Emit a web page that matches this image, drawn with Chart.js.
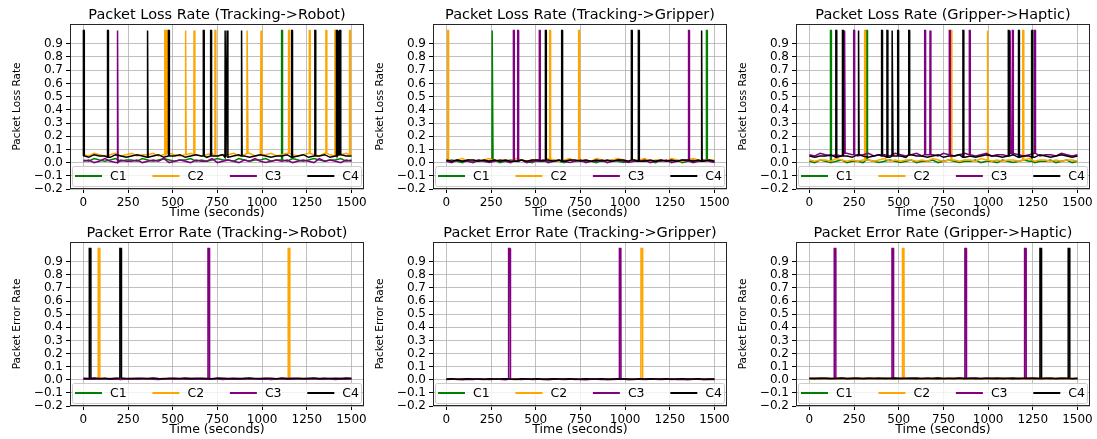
<!DOCTYPE html>
<html>
<head>
<meta charset="utf-8">
<script src="https://cdn.jsdelivr.net/npm/chart.js@4.4.0/dist/chart.umd.min.js"></script>
<style>
    html, body { margin: 0; padding: 0; background: #ffffff; }
    #figura { position: relative; width: 1097px; height: 439px; overflow: hidden; background: #ffffff; }
    .panel { position: absolute; }
</style>
</head>
<body>
<div id="figura"></div>
<script>
// Datos de la figura
const SERIES = ['C1', 'C2', 'C3', 'C4'];
const COLORES = ['#008000', '#ffa500', '#800080', '#000000'];
const X_TICKS = [0, 250, 500, 750, 1000, 1250, 1500];
const Y_TICKS = [-0.2, -0.1, 0.0, 0.1, 0.2, 0.3, 0.4, 0.5, 0.6, 0.7, 0.8, 0.9];
const TITULOS = [
    'Packet Loss Rate (Tracking->Robot)',
    'Packet Loss Rate (Tracking->Gripper)',
    'Packet Loss Rate (Gripper->Haptic)',
    'Packet Error Rate (Tracking->Robot)',
    'Packet Error Rate (Tracking->Gripper)',
    'Packet Error Rate (Gripper->Haptic)'
];
const ETIQUETAS_Y = ['Packet Loss Rate', 'Packet Error Rate'];
const ETIQUETA_X = 'Time (seconds)';
const PASO_BASE = 30;      // segundos entre muestras de la línea base
const NIVEL_PICO = 1.0;

// Línea base (una muestra cada 30 s) por panel y serie
const BASE_P1_C1 = [0.02,0.01,0.03,0.02,0.01,0.02,0.03,0.01,0.02,0.02,
    0.01,0.03,0.02,0.01,0.02,0.03,0.02,0.01,0.02,0.02,
    0.03,0.01,0.02,0.01,0.02,0.03,0.02,0.02,0.01,0.03,
    0.02,0.01,0.02,0.02,0.03,0.01,0.02,0.02,0.01,0.03,
    0.02,0.01,0.02,0.03,0.02,0.01,0.02,0.02,0.03,0.01,0.02];
const BASE_P1_C2 = [0.06,0.05,0.07,0.06,0.05,0.06,0.07,0.05,0.06,0.07,
    0.05,0.06,0.06,0.07,0.05,0.06,0.07,0.06,0.05,0.06,
    0.07,0.06,0.05,0.06,0.07,0.05,0.06,0.06,0.07,0.05,
    0.06,0.07,0.05,0.06,0.06,0.07,0.05,0.06,0.07,0.06,
    0.05,0.06,0.07,0.06,0.05,0.07,0.06,0.05,0.06,0.07,0.06];
const BASE_P1_C3 = [0.01,0.02,0.00,0.01,0.03,0.01,0.00,0.02,0.01,0.01,
    0.02,0.00,0.01,0.02,0.01,0.03,0.00,0.01,0.02,0.01,
    0.00,0.02,0.01,0.01,0.03,0.00,0.01,0.02,0.01,0.00,
    0.02,0.01,0.03,0.01,0.00,0.01,0.02,0.01,0.02,0.00,
    0.01,0.02,0.01,0.00,0.03,0.01,0.02,0.01,0.00,0.02,0.01];
const BASE_P1_C4 = [0.05,0.04,0.06,0.05,0.05,0.04,0.06,0.05,0.04,0.05,
    0.06,0.05,0.04,0.05,0.06,0.04,0.05,0.05,0.06,0.04,
    0.05,0.06,0.05,0.04,0.05,0.05,0.06,0.04,0.05,0.06,
    0.05,0.04,0.05,0.06,0.05,0.04,0.05,0.05,0.06,0.04,
    0.05,0.06,0.04,0.05,0.05,0.06,0.04,0.05,0.06,0.05,0.05];

const BASE_P2_C1 = [0.01,0.02,0.01,0.00,0.02,0.01,0.02,0.01,0.01,0.02,
    0.00,0.01,0.02,0.01,0.02,0.01,0.00,0.02,0.01,0.01,
    0.02,0.01,0.00,0.02,0.01,0.02,0.01,0.01,0.00,0.02,
    0.01,0.02,0.01,0.00,0.01,0.02,0.01,0.02,0.01,0.00,
    0.02,0.01,0.01,0.02,0.00,0.01,0.02,0.01,0.01,0.02,0.01];
const BASE_P2_C2 = [0.02,0.01,0.02,0.03,0.01,0.02,0.01,0.02,0.03,0.01,
    0.02,0.02,0.01,0.03,0.02,0.01,0.02,0.02,0.01,0.03,
    0.02,0.01,0.02,0.03,0.01,0.02,0.02,0.01,0.03,0.02,
    0.01,0.02,0.03,0.02,0.01,0.02,0.02,0.03,0.01,0.02,
    0.02,0.01,0.03,0.02,0.01,0.02,0.03,0.02,0.01,0.02,0.02];
const BASE_P2_C3 = [0.01,0.00,0.02,0.01,0.01,0.00,0.02,0.01,0.00,0.01,
    0.02,0.01,0.00,0.01,0.02,0.00,0.01,0.01,0.02,0.00,
    0.01,0.02,0.01,0.00,0.01,0.02,0.00,0.01,0.01,0.02,
    0.00,0.01,0.02,0.01,0.00,0.01,0.01,0.02,0.00,0.01,
    0.01,0.02,0.00,0.01,0.02,0.01,0.00,0.01,0.02,0.01,0.00];
const BASE_P2_C4 = [0.02,0.01,0.02,0.01,0.02,0.02,0.01,0.02,0.01,0.02,
    0.01,0.02,0.01,0.01,0.02,0.01,0.02,0.02,0.01,0.02,
    0.01,0.02,0.01,0.02,0.02,0.01,0.02,0.01,0.02,0.01,
    0.02,0.01,0.02,0.02,0.01,0.02,0.01,0.01,0.02,0.01,
    0.02,0.01,0.02,0.01,0.02,0.02,0.01,0.02,0.01,0.02,0.01];

const BASE_P3_C1 = [0.01,0.00,0.02,0.01,0.00,0.01,0.02,0.00,0.01,0.01,
    0.00,0.02,0.01,0.00,0.01,0.02,0.01,0.00,0.01,0.02,
    0.00,0.01,0.01,0.02,0.00,0.01,0.02,0.01,0.00,0.01,
    0.01,0.02,0.00,0.01,0.01,0.00,0.02,0.01,0.00,0.01,
    0.02,0.01,0.00,0.01,0.01,0.02,0.00,0.01,0.02,0.00,0.01];
const BASE_P3_C2 = [0.02,0.01,0.02,0.02,0.01,0.03,0.02,0.01,0.02,0.01,
    0.02,0.02,0.01,0.02,0.03,0.01,0.02,0.01,0.02,0.02,
    0.01,0.02,0.01,0.03,0.02,0.01,0.02,0.02,0.01,0.02,
    0.02,0.01,0.03,0.02,0.01,0.02,0.01,0.02,0.02,0.01,
    0.02,0.03,0.01,0.02,0.02,0.01,0.02,0.01,0.02,0.02,0.01];
const BASE_P3_C3 = [0.06,0.05,0.07,0.06,0.05,0.06,0.05,0.07,0.06,0.05,
    0.06,0.07,0.05,0.06,0.06,0.05,0.07,0.06,0.05,0.06,
    0.07,0.05,0.06,0.06,0.05,0.07,0.06,0.05,0.06,0.07,
    0.06,0.05,0.06,0.07,0.05,0.06,0.06,0.05,0.07,0.06,
    0.05,0.06,0.07,0.05,0.06,0.06,0.05,0.07,0.06,0.05,0.06];
const BASE_P3_C4 = [0.05,0.04,0.05,0.05,0.06,0.04,0.05,0.05,0.04,0.06,
    0.05,0.04,0.05,0.06,0.05,0.04,0.05,0.05,0.04,0.06,
    0.05,0.05,0.04,0.05,0.06,0.04,0.05,0.05,0.06,0.04,
    0.05,0.04,0.05,0.06,0.05,0.05,0.04,0.05,0.06,0.04,
    0.05,0.05,0.04,0.06,0.05,0.04,0.05,0.06,0.05,0.04,0.05];

const BASE_P4_C1 = [0.005,0.008,0.004,0.006,0.009,0.005,0.003,0.007,0.006,0.004,
    0.008,0.005,0.006,0.003,0.007,0.009,0.004,0.006,0.005,0.008,
    0.004,0.006,0.007,0.003,0.005,0.008,0.006,0.004,0.007,0.005,
    0.009,0.004,0.006,0.005,0.008,0.003,0.006,0.007,0.004,0.005,
    0.008,0.006,0.003,0.007,0.005,0.004,0.009,0.006,0.005,0.007,0.004];
const BASE_P4_C2 = [0.008,0.006,0.010,0.007,0.005,0.009,0.011,0.006,0.008,0.010,
    0.007,0.005,0.009,0.008,0.006,0.010,0.007,0.009,0.005,0.008,
    0.011,0.006,0.008,0.010,0.007,0.005,0.009,0.008,0.006,0.010,
    0.007,0.009,0.005,0.008,0.011,0.006,0.008,0.007,0.010,0.005,
    0.009,0.008,0.006,0.010,0.007,0.009,0.005,0.008,0.011,0.006,0.008];
const BASE_P4_C3 = [0.004,0.006,0.003,0.005,0.007,0.004,0.006,0.002,0.005,0.007,
    0.003,0.005,0.006,0.004,0.002,0.006,0.005,0.003,0.007,0.004,
    0.005,0.003,0.006,0.004,0.007,0.005,0.002,0.006,0.004,0.005,
    0.003,0.007,0.005,0.004,0.006,0.002,0.005,0.006,0.003,0.004,
    0.006,0.005,0.003,0.007,0.004,0.005,0.006,0.002,0.005,0.004,0.006];
const BASE_P4_C4 = [0.011,0.009,0.013,0.010,0.012,0.008,0.011,0.013,0.009,0.010,
    0.012,0.011,0.009,0.013,0.010,0.008,0.012,0.011,0.010,0.013,
    0.009,0.011,0.012,0.010,0.008,0.013,0.011,0.009,0.012,0.010,
    0.011,0.013,0.009,0.010,0.012,0.011,0.008,0.013,0.010,0.011,
    0.012,0.009,0.011,0.013,0.010,0.012,0.009,0.011,0.010,0.013,0.011];

const BASE_P5_C1 = [0.003,0.005,0.002,0.004,0.006,0.003,0.004,0.002,0.005,0.003,
    0.004,0.006,0.003,0.002,0.005,0.004,0.003,0.006,0.002,0.004,
    0.005,0.003,0.004,0.006,0.002,0.003,0.005,0.004,0.003,0.006,
    0.002,0.004,0.005,0.003,0.004,0.002,0.006,0.003,0.005,0.004,
    0.003,0.005,0.002,0.004,0.006,0.003,0.004,0.005,0.002,0.003,0.004];
const BASE_P5_C2 = [0.006,0.004,0.007,0.005,0.003,0.006,0.008,0.004,0.005,0.007,
    0.004,0.006,0.005,0.008,0.003,0.006,0.007,0.004,0.005,0.006,
    0.008,0.004,0.006,0.005,0.007,0.003,0.006,0.005,0.008,0.004,
    0.006,0.007,0.004,0.005,0.006,0.008,0.003,0.005,0.007,0.004,
    0.006,0.005,0.008,0.004,0.006,0.007,0.003,0.005,0.006,0.004,0.006];
const BASE_P5_C3 = [0.002,0.004,0.003,0.001,0.004,0.002,0.005,0.003,0.002,0.004,
    0.003,0.001,0.004,0.003,0.002,0.005,0.002,0.003,0.004,0.001,
    0.003,0.004,0.002,0.003,0.005,0.002,0.001,0.004,0.003,0.002,
    0.004,0.002,0.003,0.005,0.001,0.003,0.004,0.002,0.003,0.004,
    0.002,0.003,0.005,0.002,0.004,0.001,0.003,0.004,0.002,0.003,0.002];
const BASE_P5_C4 = [0.005,0.007,0.004,0.006,0.008,0.005,0.006,0.004,0.007,0.005,
    0.006,0.008,0.005,0.004,0.007,0.006,0.005,0.008,0.004,0.006,
    0.007,0.005,0.006,0.008,0.004,0.005,0.007,0.006,0.005,0.008,
    0.004,0.006,0.007,0.005,0.006,0.004,0.008,0.005,0.007,0.006,
    0.005,0.007,0.004,0.006,0.008,0.005,0.006,0.007,0.004,0.005,0.006];

const BASE_P6_C1 = [0.006,0.004,0.007,0.005,0.003,0.006,0.008,0.004,0.005,0.007,
    0.003,0.006,0.005,0.004,0.008,0.005,0.006,0.003,0.007,0.005,
    0.004,0.007,0.006,0.005,0.003,0.006,0.008,0.004,0.005,0.006,
    0.007,0.004,0.005,0.008,0.003,0.006,0.005,0.007,0.004,0.006,
    0.005,0.003,0.007,0.006,0.004,0.008,0.005,0.006,0.004,0.007,0.005];
const BASE_P6_C2 = [0.007,0.009,0.006,0.010,0.008,0.005,0.009,0.007,0.011,0.006,
    0.008,0.010,0.007,0.005,0.009,0.008,0.011,0.006,0.007,0.009,
    0.010,0.006,0.008,0.007,0.011,0.005,0.009,0.008,0.006,0.010,
    0.007,0.009,0.008,0.005,0.010,0.007,0.009,0.006,0.011,0.008,
    0.006,0.009,0.007,0.010,0.005,0.008,0.009,0.007,0.006,0.010,0.008];
const BASE_P6_C3 = [0.009,0.011,0.008,0.012,0.010,0.007,0.011,0.009,0.012,0.008,
    0.010,0.012,0.009,0.007,0.011,0.010,0.008,0.012,0.009,0.011,
    0.007,0.010,0.012,0.008,0.011,0.009,0.010,0.007,0.012,0.009,
    0.011,0.008,0.010,0.012,0.009,0.007,0.011,0.010,0.008,0.012,
    0.009,0.011,0.007,0.010,0.012,0.008,0.009,0.011,0.010,0.008,0.010];
const BASE_P6_C4 = [0.012,0.010,0.013,0.011,0.009,0.012,0.014,0.010,0.011,0.013,
    0.009,0.012,0.011,0.014,0.010,0.012,0.013,0.009,0.011,0.012,
    0.014,0.010,0.012,0.011,0.013,0.009,0.012,0.011,0.014,0.010,
    0.012,0.013,0.010,0.011,0.012,0.014,0.009,0.011,0.013,0.010,
    0.012,0.011,0.014,0.010,0.012,0.013,0.009,0.011,0.012,0.010,0.012];

// Instantes (s) en que cada serie salta a 1.0
const PICOS_P1_C1 = [1111];
const PICOS_P1_C2 = [457, 468, 572, 621, 738, 918, 996, 1150, 1266, 1359, 1409, 1491];
const PICOS_P1_C3 = [191];
const PICOS_P1_C4 = [2, 137, 359, 478, 673, 714, 795, 806, 885, 1167, 1297, 1418, 1428, 1437];

const PICOS_P2_C1 = [258, 1457];
const PICOS_P2_C2 = [9, 580, 742];
const PICOS_P2_C3 = [377, 401, 522, 1357];
const PICOS_P2_C4 = [556, 647, 1037, 1076, 1428];

const PICOS_P3_C1 = [120, 322, 1243];
const PICOS_P3_C2 = [311, 794, 997, 1196];
const PICOS_P3_C3 = [197, 250, 647, 677, 785, 897, 1125, 1138, 1262];
const PICOS_P3_C4 = [150, 187, 275, 406, 436, 465, 496, 558, 861, 1115, 1172, 1247];

const PICOS_P4_C1 = [];
const PICOS_P4_C2 = [87, 1150];
const PICOS_P4_C3 = [701];
const PICOS_P4_C4 = [37, 208];

const PICOS_P5_C1 = [];
const PICOS_P5_C2 = [1093];
const PICOS_P5_C3 = [352, 972];
const PICOS_P5_C4 = [];

const PICOS_P6_C1 = [];
const PICOS_P6_C2 = [525];
const PICOS_P6_C3 = [143, 466, 874, 1208];
const PICOS_P6_C4 = [1294, 1452];

// Leyenda dibujada dentro del área del gráfico, abajo
const leyendaInterna = {
    id: 'leyendaInterna',
    afterDatasetsDraw(chart) {
        const { ctx, chartArea } = chart;
        const izq = chartArea.left + 2;
        const der = chartArea.right - 2;
        const arriba = chartArea.bottom - 23;
        const abajo = chartArea.bottom - 2;

        ctx.save();
        ctx.fillStyle = 'rgba(255,255,255,0.8)';
        ctx.strokeStyle = '#cccccc';
        ctx.lineWidth = 1;
        ctx.beginPath();
        ctx.roundRect(izq + 0.5, arriba + 0.5, der - izq - 1, abajo - arriba - 1, 2);
        ctx.fill();
        ctx.stroke();

        ctx.font = '12.5px "DejaVu Sans"';
        ctx.textBaseline = 'middle';
        const largoLinea = 27;
        const hueco = 8;
        const anchoItem = largoLinea + hueco + ctx.measureText('C4').width;
        const paso = (der - izq - 6 - anchoItem) / 3;
        const yc = chartArea.bottom - 13;

        chart.data.datasets.forEach((ds, i) => {
            const x0 = izq + 3 + i * paso;
            ctx.strokeStyle = ds.borderColor;
            ctx.lineWidth = 2;
            ctx.beginPath();
            ctx.moveTo(x0, yc);
            ctx.lineTo(x0 + largoLinea, yc);
            ctx.stroke();
            ctx.fillStyle = '#000000';
            ctx.fillText(ds.label, x0 + largoLinea + hueco, yc + 0.5);
        });
        ctx.restore();
    }
};

// Marco completo alrededor del área (spines)
const marcoEjes = {
    id: 'marcoEjes',
    afterDraw(chart) {
        const { ctx, chartArea } = chart;
        ctx.save();
        ctx.strokeStyle = '#262626';
        ctx.lineWidth = 1;
        ctx.strokeRect(chartArea.left + 0.5, chartArea.top + 0.5,
            chartArea.width - 1, chartArea.height - 1);
        ctx.restore();
    }
};

class GestorFigura {
    constructor() {
        this.contenedor = document.getElementById('figura');
        this.graficos = [];

        Chart.defaults.font.family = '"DejaVu Sans", sans-serif';
        Chart.defaults.color = '#000000';

        this.paneles = [
            { bases: [BASE_P1_C1, BASE_P1_C2, BASE_P1_C3, BASE_P1_C4], picos: [PICOS_P1_C1, PICOS_P1_C2, PICOS_P1_C3, PICOS_P1_C4] },
            { bases: [BASE_P2_C1, BASE_P2_C2, BASE_P2_C3, BASE_P2_C4], picos: [PICOS_P2_C1, PICOS_P2_C2, PICOS_P2_C3, PICOS_P2_C4] },
            { bases: [BASE_P3_C1, BASE_P3_C2, BASE_P3_C3, BASE_P3_C4], picos: [PICOS_P3_C1, PICOS_P3_C2, PICOS_P3_C3, PICOS_P3_C4] },
            { bases: [BASE_P4_C1, BASE_P4_C2, BASE_P4_C3, BASE_P4_C4], picos: [PICOS_P4_C1, PICOS_P4_C2, PICOS_P4_C3, PICOS_P4_C4] },
            { bases: [BASE_P5_C1, BASE_P5_C2, BASE_P5_C3, BASE_P5_C4], picos: [PICOS_P5_C1, PICOS_P5_C2, PICOS_P5_C3, PICOS_P5_C4] },
            { bases: [BASE_P6_C1, BASE_P6_C2, BASE_P6_C3, BASE_P6_C4], picos: [PICOS_P6_C1, PICOS_P6_C2, PICOS_P6_C3, PICOS_P6_C4] }
        ];

        // Posición de cada área de trazado en la figura
        this.izquierdas = [70, 433, 796];
        this.anchoArea = 294;
        this.filas = [
            { arriba: 24, alto: 165, anchoPico: 4 },
            { arriba: 242, alto: 164, anchoPico: 8 }
        ];

        this.crearPaneles();
    }

    construirSerie(base, picos, anchoPico) {
        const medio = anchoPico / 2;
        let puntos = base.map((v, i) => ({ x: i * PASO_BASE, y: v }));

        // Quitar muestras que caen dentro de un pico
        puntos = puntos.filter(p => !picos.some(t => Math.abs(p.x - t) <= medio + 1));

        picos.forEach(t => {
            const b = base[Math.min(base.length - 1, Math.round(t / PASO_BASE))];
            puntos.push(
                { x: t - medio - 1, y: b },
                { x: t - medio, y: NIVEL_PICO },
                { x: t + medio, y: NIVEL_PICO },
                { x: t + medio + 1, y: b }
            );
        });

        puntos.sort((a, b) => a.x - b.x);
        return puntos;
    }

    crearPaneles() {
        this.paneles.forEach((panel, indice) => {
            const fila = this.filas[Math.floor(indice / 3)];
            const columna = indice % 3;
            const anchoEjeY = 70;
            const altoTitulo = 24;
            const altoEjeX = 31;
            const margenDer = 8;

            const ancho = anchoEjeY + this.anchoArea + margenDer;
            const alto = altoTitulo + fila.alto + altoEjeX;

            const div = document.createElement('div');
            div.className = 'panel';
            div.style.left = (this.izquierdas[columna] - anchoEjeY) + 'px';
            div.style.top = (fila.arriba - altoTitulo) + 'px';
            div.style.width = ancho + 'px';
            div.style.height = alto + 'px';

            const canvas = document.createElement('canvas');
            canvas.width = ancho;
            canvas.height = alto;
            canvas.style.width = ancho + 'px';
            canvas.style.height = alto + 'px';
            div.appendChild(canvas);
            this.contenedor.appendChild(div);

            const datasets = SERIES.map((nombre, i) => ({
                label: nombre,
                data: this.construirSerie(panel.bases[i], panel.picos[i], fila.anchoPico),
                borderColor: COLORES[i],
                backgroundColor: COLORES[i],
                borderWidth: 1.5,
                pointRadius: 0,
                fill: false,
                tension: 0,
                order: SERIES.length - i
            }));

            const grafico = new Chart(canvas, {
                type: 'line',
                data: { datasets },
                plugins: [leyendaInterna, marcoEjes],
                options: {
                    responsive: false,
                    animation: false,
                    devicePixelRatio: 1,
                    parsing: false,
                    layout: { padding: { left: 0, right: margenDer, top: 0, bottom: 0 } },
                    plugins: {
                        legend: { display: false },
                        tooltip: { enabled: false },
                        title: {
                            display: true,
                            fullSize: false,
                            text: TITULOS[indice],
                            color: '#000000',
                            font: { size: 14.5, weight: 'normal', lineHeight: 1.2 },
                            padding: { top: 6.6, bottom: 0 }
                        }
                    },
                    scales: {
                        x: {
                            type: 'linear',
                            min: -75,
                            max: 1570,
                            afterBuildTicks: (escala) => {
                                escala.ticks = X_TICKS.map(v => ({ value: v }));
                            },
                            afterFit: (escala) => { escala.height = altoEjeX; },
                            ticks: {
                                callback: (v) => String(v),
                                font: { size: 12 },
                                color: '#000000',
                                padding: 3,
                                maxRotation: 0,
                                autoSkip: false
                            },
                            grid: {
                                color: 'rgba(176,176,176,0.8)',
                                lineWidth: 1,
                                tickLength: 4,
                                tickColor: '#000000',
                                tickWidth: 1
                            },
                            border: { display: false },
                            title: {
                                display: true,
                                text: ETIQUETA_X,
                                font: { size: 12.5 },
                                padding: { top: 0, bottom: 0 }
                            }
                        },
                        y: {
                            type: 'linear',
                            min: -0.2,
                            max: 1.05,
                            afterBuildTicks: (escala) => {
                                escala.ticks = Y_TICKS.map(v => ({ value: v }));
                            },
                            afterFit: (escala) => { escala.width = anchoEjeY; },
                            ticks: {
                                callback: (v) => v.toFixed(1).replace('-', '\u2212'),
                                font: { size: 12 },
                                color: '#000000',
                                padding: 3,
                                autoSkip: false
                            },
                            grid: {
                                color: 'rgba(176,176,176,0.8)',
                                lineWidth: 1,
                                tickLength: 4,
                                tickColor: '#000000',
                                tickWidth: 1
                            },
                            border: { display: false },
                            title: {
                                display: true,
                                text: ETIQUETAS_Y[Math.floor(indice / 3)],
                                font: { size: 10.5 },
                                padding: { top: 11, bottom: 0 }
                            }
                        }
                    }
                }
            });

            this.graficos.push(grafico);
        });
    }
}

window.gestorFigura = new GestorFigura();
</script>
</body>
</html>
